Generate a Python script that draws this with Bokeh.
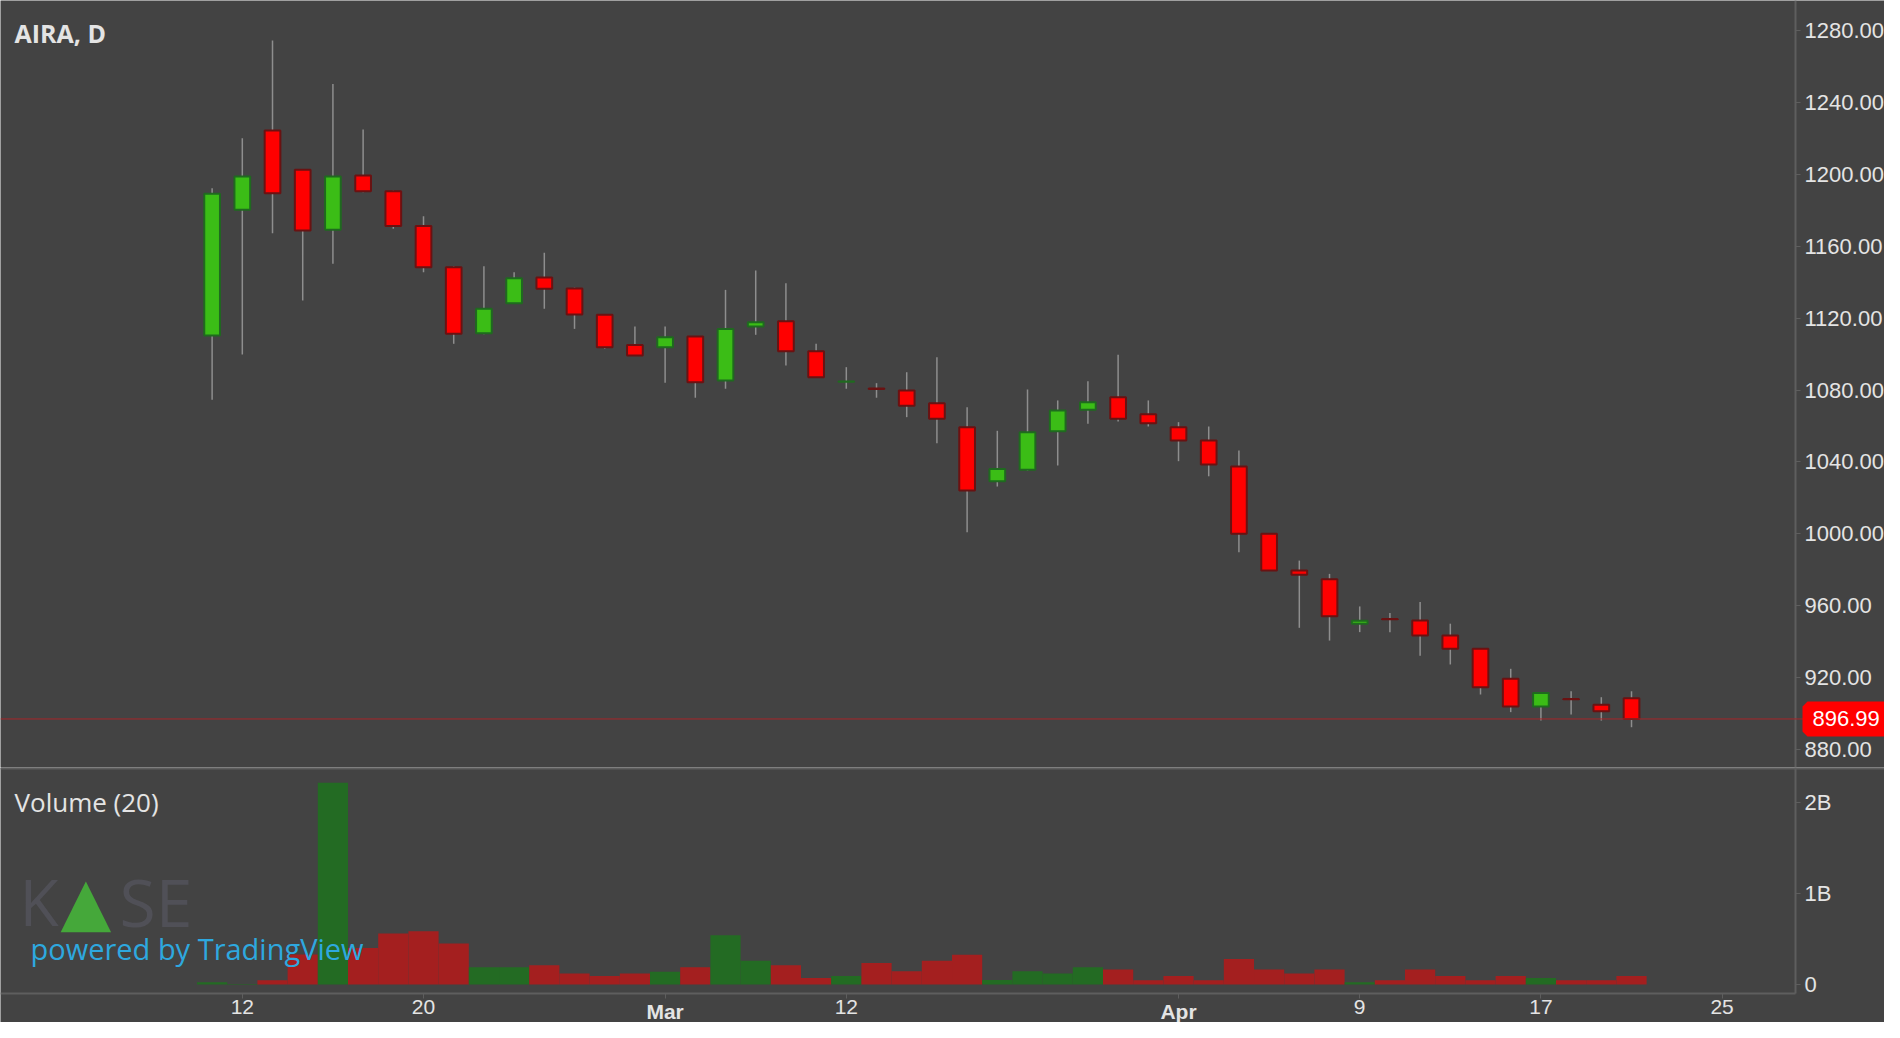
from bokeh.plotting import figure
from bokeh.layouts import column
from bokeh.models import (ColumnDataSource, Range1d, FixedTicker, LinearAxis,
                          NumeralTickFormatter, Label, Span)
from bokeh.embed import file_html
from bokeh.resources import INLINE

# ---------------- data ----------------
title_text = "AIRA, D"
volume_title = "Volume (20)"

opens = [1110.3, 1180.3, 1224.4, 1202.5, 1169.1, 1199.3, 1190.6, 1171.3, 1148.3, 1111.6,
         1128.3, 1142.6, 1136.5, 1121.8, 1105.1, 1103.8, 1109.8, 1085.3, 1115.3, 1118.3,
         1101.6, 1084.6, 1080.9, 1079.7, 1072.7, 1059.3, 1029.3, 1035.6, 1057.1, 1069.0,
         1076.0, 1066.5, 1059.3, 1051.9, 1037.4, 1000.0, 979.6, 974.7, 949.9, 952.6,
         951.8, 943.4, 936.0, 919.3, 903.9, 908.1, 904.9, 908.5]
highs = [1192.3, 1220.1, 1274.4, 1203.0, 1250.3, 1224.9, 1191.0, 1176.7, 1149.0, 1148.9,
         1145.5, 1156.3, 1137.0, 1122.0, 1115.3, 1115.3, 1110.0, 1135.7, 1146.5, 1139.4,
         1105.7, 1092.7, 1083.8, 1089.9, 1098.2, 1070.4, 1057.3, 1080.3, 1074.2, 1084.9,
         1099.6, 1074.2, 1062.1, 1059.7, 1046.3, 1000.2, 985.1, 977.7, 959.6, 956.0,
         962.0, 950.0, 936.2, 924.9, 911.7, 912.4, 909.1, 912.4]
lows = [1074.6, 1099.7, 1167.2, 1129.8, 1150.2, 1190.0, 1169.7, 1145.5, 1105.7, 1111.0,
        1128.0, 1125.2, 1114.0, 1103.0, 1099.0, 1084.0, 1075.7, 1080.7, 1110.7, 1093.6,
        1087.0, 1080.7, 1075.7, 1064.9, 1050.4, 1000.9, 1026.3, 1035.0, 1038.0, 1061.2,
        1062.5, 1059.7, 1040.4, 1032.0, 989.8, 979.4, 947.7, 940.6, 945.3, 945.3,
        932.1, 927.3, 910.6, 900.8, 896.1, 899.5, 896.1, 892.4]
closes = [1189.2, 1198.8, 1189.5, 1168.7, 1198.8, 1190.6, 1171.3, 1148.3, 1111.3, 1125.2,
          1142.2, 1136.3, 1122.0, 1103.8, 1099.2, 1109.4, 1084.3, 1114.0, 1117.7, 1101.6,
          1087.1, 1084.8, 1080.6, 1071.2, 1064.0, 1024.1, 1036.0, 1056.5, 1068.6, 1073.2,
          1064.0, 1061.5, 1051.9, 1038.6, 1000.0, 979.6, 977.2, 954.2, 951.6, 952.4,
          943.4, 936.0, 914.7, 903.9, 911.5, 907.9, 901.3, 896.99]
volumes = [26e6, 6e6, 47e6, 330e6, 2215e6, 400e6, 560e6, 585e6, 450e6, 190e6,
           190e6, 210e6, 120e6, 93e6, 120e6, 140e6, 190e6, 540e6, 260e6, 210e6,
           72e6, 93e6, 237e6, 144e6, 260e6, 327e6, 50e6, 144e6, 120e6, 190e6,
           165e6, 47e6, 93e6, 47e6, 280e6, 165e6, 120e6, 165e6, 26e6, 47e6,
           165e6, 93e6, 47e6, 93e6, 72e6, 47e6, 47e6, 93e6]
last_price = 896.99

x_tick_pos = [1, 7, 15, 21, 32, 38, 44, 50]
x_tick_labels = ["12", "20", "Mar", "12", "Apr", "9", "17", "25"]
month_labels = ["Mar", "Apr"]
price_ticks = [880, 920, 960, 1000, 1040, 1080, 1120, 1160, 1200, 1240, 1280]
volume_ticks = [0, 1000000000, 2000000000]
volume_tick_labels = ["0", "1B", "2B"]

# ---------------- style ----------------
BG = "#434343"
AX = "#5e5e5e"
TXT = "#e4e4e4"
UP_FILL, UP_LINE = "#3bbd16", "#1f6a1f"
DN_FILL, DN_LINE = "#ff0000", "#6a1212"
WICK = "#8e8e8e"
VOL_UP, VOL_DN = "#236b23", "#a41f1f"

n = len(opens)
xs = list(range(n))
up = [c >= o for o, c in zip(opens, closes)]
src = ColumnDataSource(dict(
    x=xs,
    high=highs, low=lows,
    top=[max(o, c) for o, c in zip(opens, closes)],
    bottom=[min(o, c) for o, c in zip(opens, closes)],
    body=[UP_FILL if u else DN_FILL for u in up],
    border=[UP_LINE if u else DN_LINE for u in up],
    vol=volumes,
    volc=[VOL_UP if u else VOL_DN for u in up],
))

W = 1884
H1 = 767
H2 = 1022 - H1
X0, X1 = -7.007, 55.377          # index range across the canvas
AXX = 52.43                       # where the price / volume scales sit
xr = Range1d(X0, X1)

VTOP, VBOT = 2.381e9, -0.417e9    # volume range across the lower pane
AXY = -0.0987e9                   # where the time axis sits


def make_fig(h, yr):
    p = figure(width=W, height=h, x_range=xr, y_range=yr,
               output_backend="svg", toolbar_location=None, title=None,
               x_axis_location=None, y_axis_location=None,
               min_border_left=0, min_border_top=0, min_border_bottom=0,
               min_border_right=0)
    p.background_fill_color = BG
    p.border_fill_color = BG
    p.outline_line_color = None
    p.xgrid.grid_line_color = None
    p.ygrid.grid_line_color = None
    return p


def style_axis(ax, size="22px", tick_out=5, standoff=4):
    ax.axis_line_color = AX
    ax.axis_line_width = 2
    ax.major_tick_line_color = AX
    ax.major_tick_out = tick_out
    ax.major_tick_in = 0
    ax.minor_tick_line_color = None
    ax.major_label_text_color = TXT
    ax.major_label_text_font = "Liberation Sans"
    ax.major_label_text_font_size = size
    ax.major_label_standoff = standoff


# ---------------- price pane ----------------
p1 = make_fig(H1, Range1d(869.99, 1296.69))
ya = LinearAxis(fixed_location=AXX, ticker=FixedTicker(ticks=price_ticks),
                formatter=NumeralTickFormatter(format="0.00"))
style_axis(ya)
p1.add_layout(ya, "right")

p1.segment(x0="x", y0="high", x1="x", y1="low", source=src,
           line_color=WICK, line_width=1.5)
p1.vbar(x="x", width=0.52, top="top", bottom="bottom", source=src,
        fill_color="body", line_color="border", line_width=2)

p1.add_layout(Span(location=last_price, dimension="width",
                   line_color="#a8262a", line_width=1))
p1.add_layout(Label(x=AXX, y=last_price, x_offset=12, text=f"{last_price:.2f}",
                    text_align="left", text_baseline="middle",
                    text_font="Liberation Sans", text_font_size="22px",
                    text_color="#ffffff", background_fill_color="#ff0000",
                    border_line_color="#ff0000", border_line_width=10,
                    padding=5))
p1.add_layout(Label(x=-6.543, y=1272.6, y_offset=11, text=title_text,
                    text_font="Open Sans", text_font_style="bold",
                    text_font_size="25px", text_color=TXT,
                    text_baseline="alphabetic"))

# ---------------- volume pane ----------------
p2 = make_fig(H2, Range1d(VBOT, VTOP))

WM = "#505057"
p2.add_layout(Label(x=-6.377, y=0.615e9, y_offset=27, text="K", text_font="Open Sans",
                    text_font_size="64px", text_color=WM, text_baseline="alphabetic"))
p2.add_layout(Label(x=-3.067, y=0.615e9, y_offset=27, text="SE", text_font="Open Sans",
                    text_font_size="66px", text_color=WM, text_baseline="alphabetic"))
p2.add_layout(Label(x=-5.02, y=0.60e9, y_offset=28, text="\u25B2", text_font="DejaVu Sans",
                    text_font_size="66px", text_color="#45a83a",
                    text_baseline="alphabetic"))

p2.vbar(x="x", width=1.0, top="vol", bottom=0, source=src,
        fill_color="volc", line_color=None)

p2.add_layout(Label(x=-6.013, y=0.263e9, y_offset=12, text="powered by TradingView",
                    text_font="Open Sans", text_font_size="29px",
                    text_color="#2ea8df", text_baseline="alphabetic"))
p2.add_layout(Label(x=-6.543, y=1.878e9, y_offset=11, text=volume_title,
                    text_font="Open Sans", text_font_size="26px",
                    text_color=TXT, text_baseline="alphabetic"))

p2.add_layout(Span(location=VTOP, dimension="width", line_color=AX, line_width=4))

va = LinearAxis(fixed_location=AXX, ticker=FixedTicker(ticks=volume_ticks),
                bounds=(AXY, VTOP))
va.major_label_overrides = dict(zip(volume_ticks, volume_tick_labels))
style_axis(va)
p2.add_layout(va, "right")

xa = LinearAxis(fixed_location=AXY, ticker=FixedTicker(ticks=x_tick_pos),
                bounds=(X0, AXX))
xa.major_label_overrides = {pos: ("" if lab in month_labels else lab)
                            for pos, lab in zip(x_tick_pos, x_tick_labels)}
style_axis(xa, size="21px", tick_out=5, standoff=2)
p2.add_layout(xa, "below")

for pos, lab in zip(x_tick_pos, x_tick_labels):
    if lab in month_labels:
        p2.add_layout(Label(x=pos, y=AXY, y_offset=-7, text=lab,
                            text_align="center", text_baseline="top",
                            text_font="Liberation Sans", text_font_style="bold",
                            text_font_size="21px", text_color=TXT))

layout = column(p1, p2, spacing=0)
html = file_html(layout, INLINE)
html = html.replace("<body>", '<body style="background-color:#434343;">', 1)
open("out.html", "w").write(html)
